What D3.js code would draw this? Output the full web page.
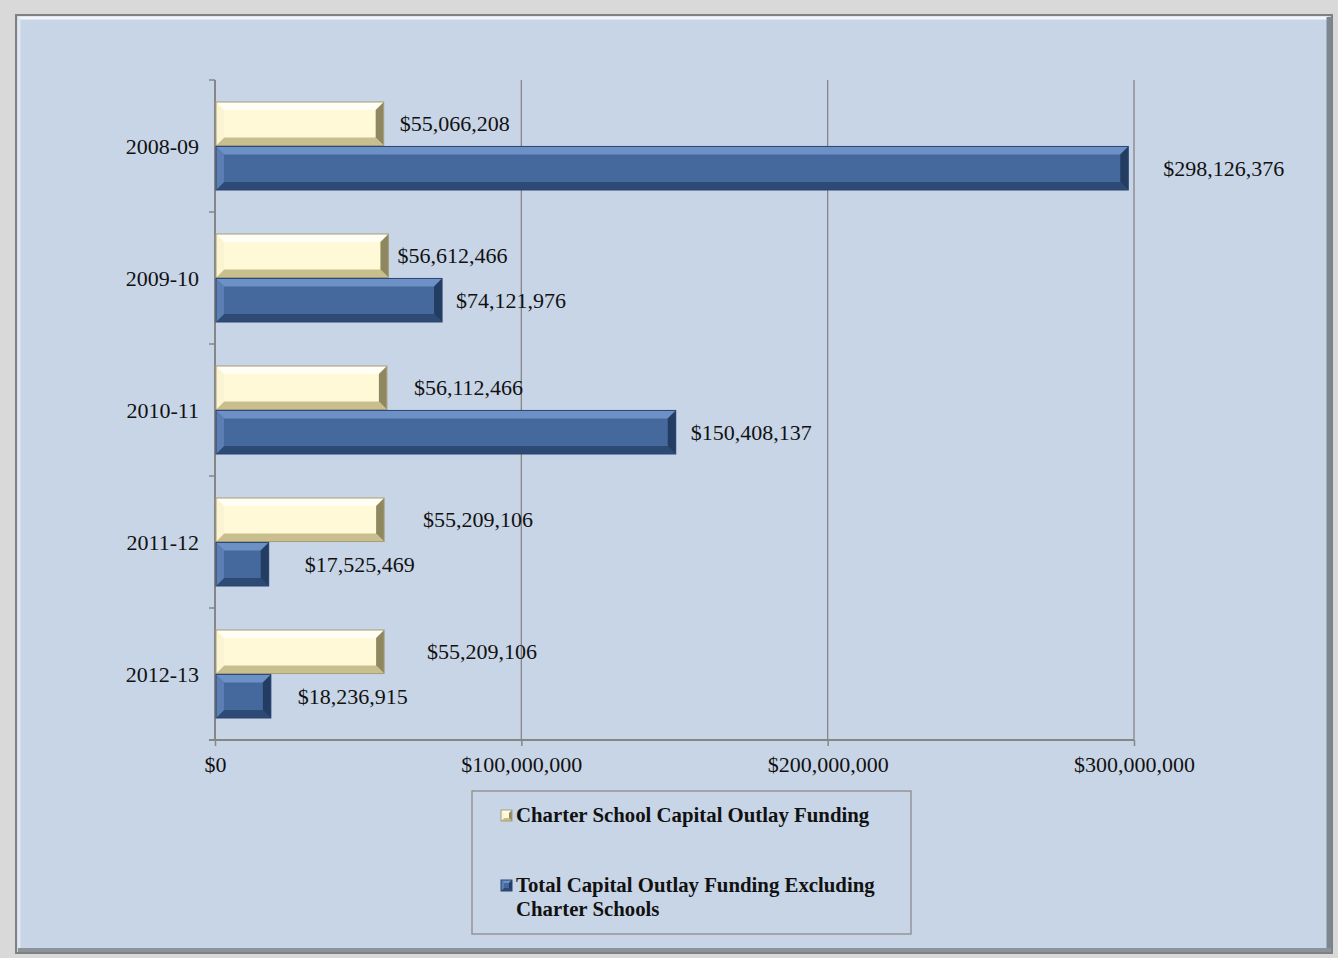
<!DOCTYPE html>
<html>
<head>
<meta charset="utf-8">
<script src="https://cdn.jsdelivr.net/npm/d3@7"></script>
<style>
  body { margin: 0; background: #d9d9d9; }
  svg { display: block; }
</style>
</head>
<body>
<div id="chart"></div>
<script>
// data
var years = ["2008-09", "2009-10", "2010-11", "2011-12", "2012-13"];
var charterFunding = [55066208, 56612466, 56112466, 55209106, 55209106];
var otherFunding = [298126376, 74121976, 150408137, 17525469, 18236915];
var seriesNames = ["Charter School Capital Outlay Funding",
                   "Total Capital Outlay Funding Excluding Charter Schools"];
var xTicks = [0, 100000000, 200000000, 300000000];

var width = 1338, height = 958;

// label gaps from bar end (px), as placed in the original
var gapCharter = [16, 9, 27, 39, 43];
var gapOther = [35, 14, 15, 36, 27];

var svg = d3.select("#chart").append("svg")
  .attr("width", width)
  .attr("height", height);

svg.append("rect").attr("width", width).attr("height", height).attr("fill", "#d9d9d9");

// panel
var px = 16, py = 15, pw = 1316, ph = 938;
svg.append("rect")
  .attr("x", px).attr("y", py).attr("width", pw).attr("height", ph)
  .attr("fill", "#c8d5e6").attr("stroke", "#808080").attr("stroke-width", 2);
// bevel of the panel
svg.append("path").attr("d", "M" + (px+2) + "," + (py+3) + "H" + (px+pw-4)).attr("stroke", "#f2f6fb").attr("stroke-width", 3);
svg.append("path").attr("d", "M" + (px+3) + "," + (py+3) + "V" + (py+ph-4)).attr("stroke", "#e0e8f2").attr("stroke-width", 3);
svg.append("path").attr("d", "M" + (px+pw-3) + "," + (py+2) + "V" + (py+ph-1)).attr("stroke", "#7d858f").attr("stroke-width", 5);
svg.append("path").attr("d", "M" + (px+2) + "," + (py+ph-3) + "H" + (px+pw-1)).attr("stroke", "#8a929c").attr("stroke-width", 4);

var plotL = 215, plotR = 1134, plotT = 80, plotB = 740;

var x = d3.scaleLinear().domain([0, 300000000]).range([plotL, plotR]);
var y = d3.scaleBand().domain(years).range([plotT, plotB])
  .paddingInner(1/3).paddingOuter(1/6);
var ySub = d3.scaleBand().domain([0, 1]).range([0, y.bandwidth()]).paddingInner(0.02);

var serif = "'Liberation Serif', 'Times New Roman', serif";

// gridlines
svg.append("g").selectAll("line").data(xTicks.slice(1)).enter().append("line")
  .attr("x1", function(d) { return x(d); }).attr("x2", function(d) { return x(d); })
  .attr("y1", plotT).attr("y2", plotB)
  .attr("stroke", "#868686").attr("stroke-width", 1.3);

// x axis
var xAxis = svg.append("g")
  .attr("transform", "translate(0," + plotB + ")")
  .call(d3.axisBottom(x).tickValues(xTicks).tickFormat(d3.format("$,")).tickSize(6).tickPadding(10));
xAxis.select(".domain").attr("stroke", "#868686").attr("stroke-width", 2).attr("d", "M" + (plotL-6) + ",0H" + plotR);
xAxis.selectAll(".tick line").attr("stroke", "#868686").attr("stroke-width", 1.5);
xAxis.selectAll("text").attr("font-family", serif).attr("font-size", "22px").attr("fill", "#111");

// y axis line and category ticks
svg.append("line").attr("x1", plotL).attr("x2", plotL).attr("y1", plotT).attr("y2", plotB)
  .attr("stroke", "#868686").attr("stroke-width", 2);
var bounds = years.map(function(d) { return y(d) - y.step() * y.paddingInner() / 2; });
bounds.push(plotB);
svg.append("g").selectAll("line").data(bounds).enter().append("line")
  .attr("x1", plotL - 6).attr("x2", plotL)
  .attr("y1", function(d) { return d; }).attr("y2", function(d) { return d; })
  .attr("stroke", "#868686").attr("stroke-width", 1.5);

svg.append("g").selectAll("text").data(years).enter().append("text")
  .attr("x", plotL - 16)
  .attr("y", function(d) { return y(d) + y.bandwidth() / 2; })
  .attr("dy", "0.35em")
  .attr("text-anchor", "end")
  .attr("font-family", serif).attr("font-size", "22px").attr("fill", "#111")
  .text(function(d) { return d; });

// bevelled bar
var styles = [
  { face: "#fff9d8", top: "#fffef4", left: "#fbf4d2", bottom: "#c9bf8e", right: "#8f875f", line: "#a59d78" },
  { face: "#45699d", top: "#6d91c6", left: "#5b7fb3", bottom: "#2c4a74", right: "#233d62", line: "#2a4570" }
];

function bevelBar(g, x0, y0, x1, y1, s, bev) {
  var b = Math.min(bev, (x1 - x0) / 2, (y1 - y0) / 2);
  function poly(pts, c) {
    g.append("polygon").attr("points", pts.map(function(p) { return p.join(","); }).join(" ")).attr("fill", c);
  }
  g.append("rect").attr("x", x0).attr("y", y0).attr("width", x1 - x0).attr("height", y1 - y0).attr("fill", s.face);
  poly([[x0, y0], [x1, y0], [x1 - b, y0 + b], [x0 + b, y0 + b]], s.top);
  poly([[x0, y1], [x1, y1], [x1 - b, y1 - b], [x0 + b, y1 - b]], s.bottom);
  poly([[x0, y0], [x0 + b, y0 + b], [x0 + b, y1 - b], [x0, y1]], s.left);
  poly([[x1, y0], [x1 - b, y0 + b], [x1 - b, y1 - b], [x1, y1]], s.right);
  g.append("rect").attr("x", x0).attr("y", y0).attr("width", x1 - x0).attr("height", y1 - y0)
    .attr("fill", "none").attr("stroke", s.line).attr("stroke-width", 1);
}

var series = [charterFunding, otherFunding];
var gaps = [gapCharter, gapOther];
var bars = svg.append("g");
var labels = svg.append("g");
series.forEach(function(vals, si) {
  vals.forEach(function(v, i) {
    var y0 = y(years[i]) + ySub(si);
    var y1 = y0 + ySub.bandwidth();
    bevelBar(bars.append("g"), x(0) + 1, y0, x(v), y1, styles[si], 8);
    labels.append("text")
      .attr("x", x(v) + gaps[si][i])
      .attr("y", (y0 + y1) / 2)
      .attr("dy", "0.35em")
      .attr("font-family", serif).attr("font-size", "22px").attr("fill", "#111")
      .text(d3.format("$,")(v));
  });
});

// legend
var lg = svg.append("g");
lg.append("rect").attr("x", 472).attr("y", 791).attr("width", 439).attr("height", 143)
  .attr("fill", "none").attr("stroke", "#8c8c8c").attr("stroke-width", 1.3);
var legendRows = [[seriesNames[0]], ["Total Capital Outlay Funding Excluding", "Charter Schools"]];
var legendY = [815, 885];
legendRows.forEach(function(lines, i) {
  bevelBar(lg.append("g"), 501, legendY[i] - 5, 512, legendY[i] + 6, styles[i], 3);
  var t = lg.append("text")
    .attr("x", 516).attr("y", legendY[i])
    .attr("font-family", serif).attr("font-size", "20.8px").attr("font-weight", "bold").attr("fill", "#111");
  lines.forEach(function(l, j) {
    t.append("tspan").attr("x", 516).attr("dy", j === 0 ? "0.35em" : "1.15em").text(l);
  });
});
</script>
</body>
</html>
